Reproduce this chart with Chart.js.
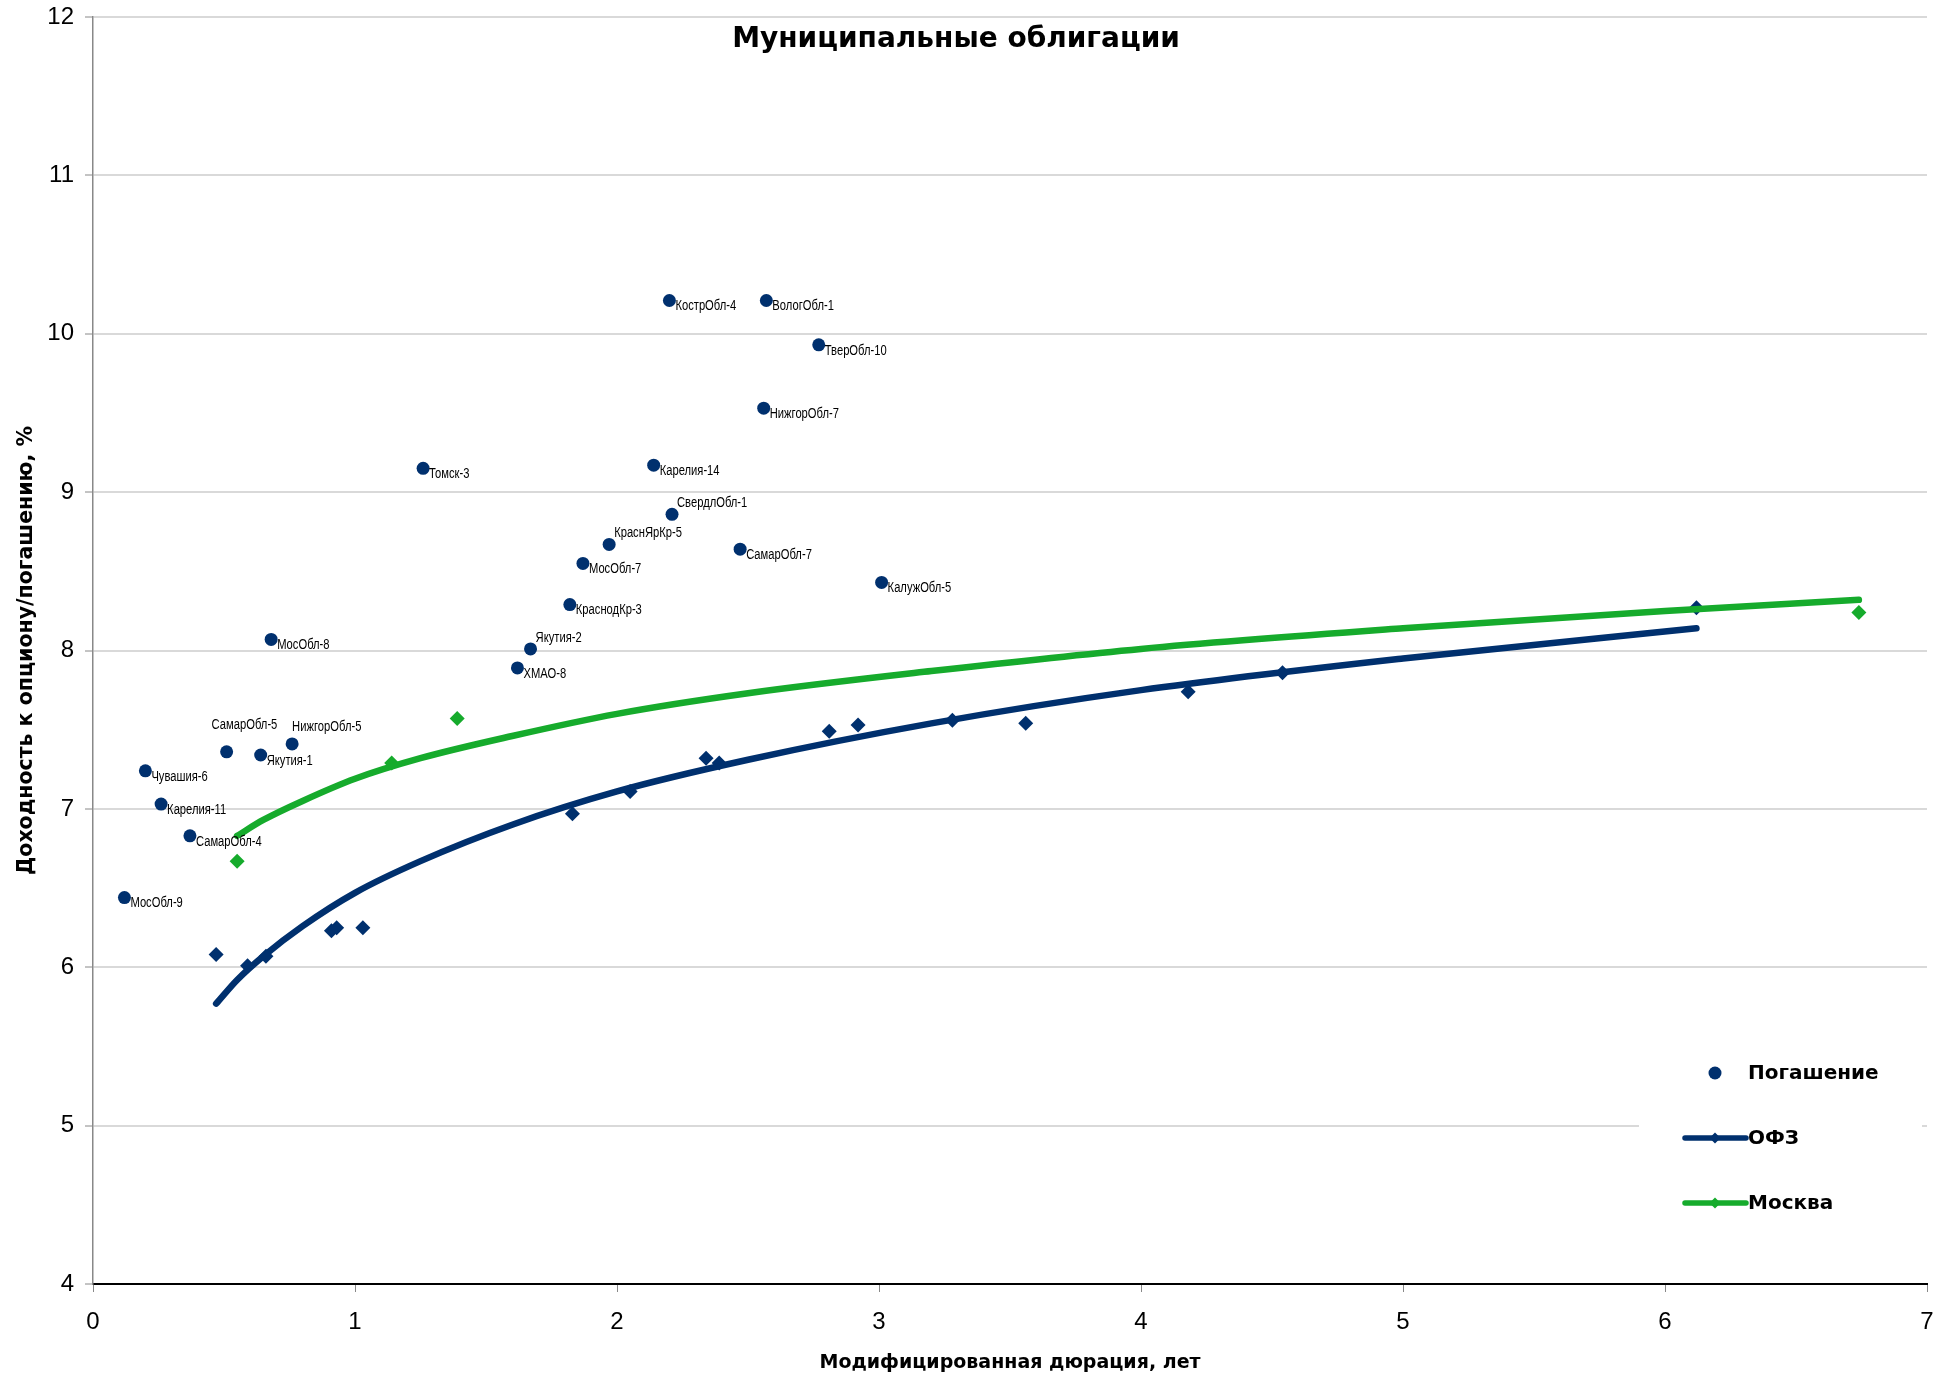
<!DOCTYPE html>
<html lang="ru">
<head>
<meta charset="utf-8">
<title>Муниципальные облигации</title>
<script src="https://cdn.jsdelivr.net/npm/chart.js@4.4.1/dist/chart.umd.min.js"></script>
<style>
  html, body { margin: 0; padding: 0; background: #fff; }
  #wrap { width: 1946px; height: 1376px; position: relative; }
</style>
</head>
<body>
<div id="wrap"><canvas id="bondChart"></canvas></div>
<script>
'use strict';

// -------------------------------------------------
// Данные
// -------------------------------------------------
// Погашение
const bondNames = [
  'КострОбл-4', 'ВологОбл-1', 'ТверОбл-10', 'НижгорОбл-7', 'Томск-3', 'Карелия-14',
  'СвердлОбл-1', 'КраснЯрКр-5', 'СамарОбл-7', 'МосОбл-7', 'КалужОбл-5', 'КраснодКр-3',
  'Якутия-2', 'ХМАО-8', 'МосОбл-8', 'СамарОбл-5', 'Якутия-1', 'НижгорОбл-5',
  'Чувашия-6', 'Карелия-11', 'СамарОбл-4', 'МосОбл-9'
];
const bondDuration = [
  2.20, 2.57, 2.77, 2.56, 1.26, 2.14,
  2.21, 1.97, 2.47, 1.87, 3.01, 1.82,
  1.67, 1.62, 0.68, 0.51, 0.64, 0.76,
  0.20, 0.26, 0.37, 0.12
];
const bondYield = [
  10.21, 10.21, 9.93, 9.53, 9.15, 9.17,
  8.86, 8.67, 8.64, 8.55, 8.43, 8.29,
  8.01, 7.89, 8.07, 7.36, 7.34, 7.41,
  7.24, 7.03, 6.83, 6.44
];

// ОФЗ
const ofzDuration = [0.47, 0.59, 0.66, 0.91, 0.93, 1.03, 1.83, 2.05, 2.34, 2.39, 2.81, 2.92, 3.28, 3.56, 4.18, 4.54, 6.12];
const ofzYield    = [6.08, 6.01, 6.07, 6.23, 6.25, 6.25, 6.97, 7.11, 7.32, 7.29, 7.49, 7.53, 7.56, 7.54, 7.74, 7.86, 8.27];

// Москва
const mskDuration = [0.55, 1.14, 1.39, 6.74];
const mskYield    = [6.67, 7.29, 7.57, 8.24];

const ofzTrendX = [0.47, 0.55, 0.65, 0.8, 1.0, 1.25, 1.6, 2.0, 2.5, 3.2, 4.0, 5.0, 6.12];
const ofzTrendY = [5.77, 5.92, 6.07, 6.26, 6.47, 6.67, 6.90, 7.11, 7.31, 7.54, 7.75, 7.95, 8.14];
const mskTrendX = [0.55, 0.65, 0.8, 1.0, 1.25, 1.6, 2.0, 2.5, 3.2, 4.0, 5.0, 6.0, 6.74];
const mskTrendY = [6.83, 6.93, 7.05, 7.19, 7.32, 7.46, 7.60, 7.73, 7.87, 8.01, 8.14, 8.25, 8.32];

// 目盛り
const xTickValues = [0, 1, 2, 3, 4, 5, 6, 7];
const yTickValues = [4, 5, 6, 7, 8, 9, 10, 11, 12];

// -------------------------------------------------
// 見た目
// -------------------------------------------------
const colorNavy = '#00306e';
const colorGreen = '#16ab2c';
const narrowFont = '"Liberation Sans Narrow", "Arial Narrow", "Liberation Sans", sans-serif';
const boldFont = '"DejaVu Sans", Verdana, sans-serif';

// ラベルの位置ずらし（既定は右下）
const labelShift = {
  'СвердлОбл-1': [5, -11],
  'КраснЯрКр-5': [5, -11],
  'Якутия-2': [5, -11],
  'СамарОбл-5': [-15, -27],
  'НижгорОбл-5': [0, -17],
};

const toPoints = (xs, ys) => xs.map((x, i) => ({ x: x, y: ys[i] }));

// 点ラベル（細めに詰めて描く）
const pointLabels = {
  id: 'pointLabels',
  afterDatasetsDraw(chart) {
    const ctx = chart.ctx;
    const meta = chart.getDatasetMeta(0);
    ctx.save();
    ctx.font = '14px ' + narrowFont;
    ctx.fillStyle = '#000';
    ctx.textAlign = 'left';
    ctx.textBaseline = 'middle';
    meta.data.forEach((pt, i) => {
      const name = bondNames[i];
      const off = labelShift[name] || [6, 6];
      ctx.save();
      ctx.translate(pt.x + off[0], pt.y + off[1]);
      ctx.scale(0.8, 1);
      ctx.fillText(name, 0, 0);
      ctx.restore();
    });
    ctx.restore();
  },
};

// タイトルと凡例（グラフ内に描く）
const innerDecor = {
  id: 'innerDecor',
  afterDraw(chart) {
    const ctx = chart.ctx;
    const area = chart.chartArea;
    ctx.save();

    // タイトル
    ctx.font = 'bold 28px ' + boldFont;
    ctx.fillStyle = '#000';
    ctx.textAlign = 'center';
    ctx.textBaseline = 'middle';
    ctx.fillText('Муниципальные облигации', (area.left + area.right) / 2 - 54, area.top + 23);

    // 凡例
    const boxLeft = area.right - 288;
    const boxTop = area.bottom - 250;
    ctx.fillStyle = '#fff';
    ctx.fillRect(boxLeft, boxTop, 283, 205);

    const symX = boxLeft + 76;
    const textX = boxLeft + 109;
    const rows = [
      { label: 'Погашение', color: colorNavy, kind: 'dot' },
      { label: 'ОФЗ', color: colorNavy, kind: 'line' },
      { label: 'Москва', color: colorGreen, kind: 'line' },
    ];
    rows.forEach((row, i) => {
      const y = boxTop + 39 + i * 65;
      ctx.fillStyle = row.color;
      ctx.strokeStyle = row.color;
      if (row.kind === 'dot') {
        ctx.beginPath();
        ctx.arc(symX, y, 6.5, 0, Math.PI * 2);
        ctx.fill();
      } else {
        ctx.lineWidth = 5.5;
        ctx.lineCap = 'round';
        ctx.beginPath();
        ctx.moveTo(symX - 30, y);
        ctx.lineTo(symX + 31, y);
        ctx.stroke();
        ctx.beginPath();
        ctx.moveTo(symX - 5.5, y);
        ctx.lineTo(symX, y - 5.5);
        ctx.lineTo(symX + 5.5, y);
        ctx.lineTo(symX, y + 5.5);
        ctx.closePath();
        ctx.fill();
      }
      ctx.fillStyle = '#000';
      ctx.font = 'bold 20px ' + boldFont;
      ctx.textAlign = 'left';
      ctx.textBaseline = 'middle';
      ctx.fillText(row.label, textX, y + 1);
    });
    ctx.restore();
  },
};

Chart.defaults.font.family = narrowFont;
Chart.defaults.color = '#000';

const ctx = document.getElementById('bondChart').getContext('2d');
const bondChart = new Chart(ctx, {
  type: 'scatter',
  data: {
    datasets: [
      {
        label: 'Погашение',
        data: toPoints(bondDuration, bondYield),
        backgroundColor: colorNavy,
        borderColor: colorNavy,
        borderWidth: 0,
        pointRadius: 6.5,
        order: 3,
      },
      {
        label: 'ОФЗ',
        data: toPoints(ofzDuration, ofzYield),
        backgroundColor: colorNavy,
        borderColor: colorNavy,
        borderWidth: 0,
        pointStyle: 'rectRot',
        pointRadius: 7.5,
        order: 2,
      },
      {
        label: 'Москва',
        data: toPoints(mskDuration, mskYield),
        backgroundColor: colorGreen,
        borderColor: colorGreen,
        borderWidth: 0,
        pointStyle: 'rectRot',
        pointRadius: 7.5,
        order: 2,
      },
      {
        label: 'тренд ОФЗ',
        data: toPoints(ofzTrendX, ofzTrendY),
        showLine: true,
        borderColor: colorNavy,
        borderWidth: 6.5,
        borderCapStyle: 'round',
        cubicInterpolationMode: 'monotone',
        pointRadius: 0,
        order: 0,
      },
      {
        label: 'тренд Москва',
        data: toPoints(mskTrendX, mskTrendY),
        showLine: true,
        borderColor: colorGreen,
        borderWidth: 6.5,
        borderCapStyle: 'round',
        cubicInterpolationMode: 'monotone',
        pointRadius: 0,
        order: 0,
      },
    ],
  },
  options: {
    responsive: true,
    maintainAspectRatio: false,
    animation: false,
    layout: {
      padding: { top: 17, right: 19, left: 0, bottom: 0 },
    },
    plugins: {
      legend: { display: false },
      tooltip: { enabled: false },
    },
    scales: {
      x: {
        type: 'linear',
        min: 0,
        max: 7,
        afterBuildTicks: (scale) => {
          scale.ticks = xTickValues.map((v) => ({ value: v }));
        },
        afterFit: (scale) => {
          scale.height = 92;
          scale.paddingLeft = 0;
          scale.paddingRight = 0;
        },
        ticks: {
          padding: 16,
          font: { size: 24 },
        },
        grid: {
          drawOnChartArea: false,
          drawTicks: true,
          tickLength: 8,
          tickColor: '#888',
          tickWidth: 1,
        },
        border: { color: '#000', width: 2 },
        title: {
          display: true,
          text: 'Модифицированная дюрация, лет',
          font: { family: boldFont, size: 19, weight: 'bold' },
          padding: { top: 0, bottom: 2 },
        },
      },
      y: {
        type: 'linear',
        min: 4,
        max: 12,
        afterBuildTicks: (scale) => {
          scale.ticks = yTickValues.map((v) => ({ value: v }));
        },
        afterFit: (scale) => {
          scale.width = 93;
          scale.paddingTop = 0;
          scale.paddingBottom = 0;
        },
        ticks: {
          padding: 11,
          font: { size: 24 },
        },
        grid: {
          color: '#d9d9d9',
          lineWidth: 2,
          drawTicks: true,
          tickLength: 8,
          tickColor: '#888',
          tickWidth: 1,
        },
        border: { color: '#888', width: 1.5 },
        title: {
          display: true,
          text: 'Доходность к опциону/погашению, %',
          font: { family: boldFont, size: 20.5, weight: 'bold' },
          padding: { top: 14, bottom: 0 },
        },
      },
    },
  },
  plugins: [pointLabels, innerDecor],
});
</script>
</body>
</html>
